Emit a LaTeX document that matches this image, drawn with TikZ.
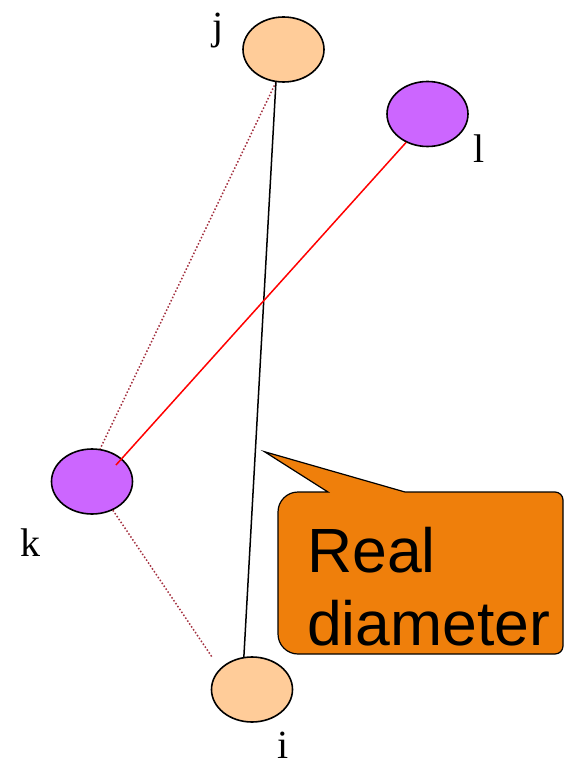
\documentclass[tikz,border=0pt]{standalone}
\usepackage{fontspec}
\setmainfont{Liberation Serif}
\setsansfont{Liberation Sans}
\usetikzlibrary{shapes.geometric}
\definecolor{peach}{HTML}{FFCC99}
\definecolor{violetnode}{HTML}{CC66FF}
\definecolor{calloutorange}{HTML}{EF7F0B}
\definecolor{dotred}{HTML}{A3303F}
\tikzset{
  vert/.style={ellipse, draw=black, line width=1.6pt, minimum width=81pt, minimum height=65pt, inner sep=0pt},
  lab/.style={font=\fontsize{40}{40}\selectfont, inner sep=0pt, anchor=base},
  dotlink/.style={dotted, dotred, line width=1.5pt},
  reallink/.style={black, line width=1.5pt},
  redlink/.style={red, line width=1.5pt},
}
\begin{document}
\begin{tikzpicture}[x=1pt,y=1pt]
\useasboundingbox (0,0) rectangle (564,-767);
\begin{scope}
\clip (0,0) rectangle (564,-767);
% callout
\draw[fill=calloutorange, line width=1.2pt]
  (264.5,-451.7) -- (405,-492) -- (555,-492)
  arc[start angle=90, end angle=0, radius=8] -- (563,-646)
  arc[start angle=0, end angle=-90, radius=8] -- (298,-654)
  arc[start angle=270, end angle=180, radius=20] -- (278,-512)
  arc[start angle=180, end angle=90, radius=20] -- (328,-492) -- cycle;
\end{scope}
\node[font=\sffamily\fontsize{62.5}{73}\selectfont, align=left, anchor=base west, inner sep=0pt] (txt) at (307,-645) {Real\\diameter};

% vertices
\node[vert, fill=peach] (j) at (283.5,-49.5) {};
\node[vert, fill=violetnode] (l) at (427.5,-114) {};
\node[vert, fill=violetnode] (k) at (92,-481.5) {};
\node[vert, fill=peach] (i) at (252,-689.5) {};

% labels
\node[lab] (jl) at (218,-40) {j};
\node[lab] (ll) at (479,-163) {l};
\node[lab] (kl) at (30,-556) {k};
\node[lab] (il) at (283,-758) {i};

% links
\draw[dotlink] (j.257) -- (k.76);
\draw[dotlink] (k.306) -- ([shift={(-40,32.5)}]i.center);
\draw[reallink] (j.257) -- (i.104);
\draw[redlink] (l.233) -- ([shift={(24,16.5)}]k.center);
\end{tikzpicture}
\end{document}
